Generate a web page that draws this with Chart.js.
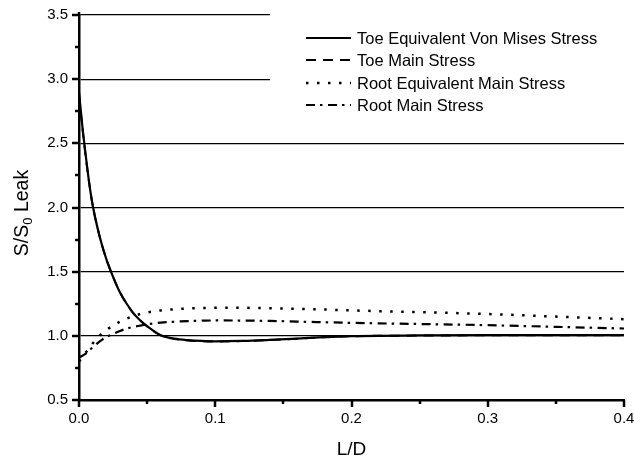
<!DOCTYPE html>
<html>
<head>
<meta charset="utf-8">
<script src="https://cdn.jsdelivr.net/npm/chart.js@4/dist/chart.umd.min.js"></script>
<style>
  html, body { margin: 0; padding: 0; background: #fff; }
  #wrap { width: 634px; height: 461px; }
</style>
</head>
<body>
<div id="wrap"><canvas id="c" width="634" height="461"></canvas></div>
<script>
// ---- data ----
const xs = [0, 0.0025, 0.005, 0.0075, 0.01, 0.015, 0.02, 0.025, 0.03, 0.035, 0.04, 0.045, 0.05, 0.06, 0.07, 0.08, 0.09, 0.1, 0.12, 0.14, 0.16, 0.18, 0.2, 0.25, 0.3, 0.35, 0.4];
const toeVonMises = [2.90, 2.63, 2.40, 2.19, 2.02, 1.78, 1.60, 1.46, 1.34, 1.25, 1.175, 1.12, 1.075, 1.005, 0.978, 0.966, 0.960, 0.957, 0.960, 0.968, 0.978, 0.990, 0.998, 1.003, 1.005, 1.005, 1.005];
const toeMain = [2.88, 2.62, 2.39, 2.19, 2.02, 1.78, 1.60, 1.46, 1.34, 1.25, 1.175, 1.12, 1.073, 1.003, 0.976, 0.964, 0.958, 0.956, 0.959, 0.967, 0.977, 0.989, 0.997, 1.002, 1.004, 1.004, 1.004];
const rootEquivMain = [0.80, 0.83, 0.87, 0.905, 0.94, 1.00, 1.045, 1.08, 1.11, 1.135, 1.155, 1.17, 1.182, 1.198, 1.207, 1.213, 1.217, 1.218, 1.218, 1.215, 1.210, 1.205, 1.198, 1.185, 1.170, 1.150, 1.130];
const rootMain = [0.83, 0.845, 0.862, 0.885, 0.91, 0.955, 0.99, 1.014, 1.038, 1.056, 1.07, 1.08, 1.09, 1.103, 1.11, 1.115, 1.118, 1.12, 1.119, 1.116, 1.111, 1.106, 1.101, 1.092, 1.083, 1.07, 1.057];
const seriesNames = ['Toe Equivalent Von Mises Stress', 'Toe Main Stress', 'Root Equivalent Main Stress', 'Root Main Stress'];
const xTickLabels = ['0.0', '0.1', '0.2', '0.3', '0.4'];
const yTickLabels = ['0.5', '1.0', '1.5', '2.0', '2.5', '3.0', '3.5'];

const FONT = "'Liberation Sans', Arial, Helvetica, sans-serif";
Chart.defaults.font.family = FONT;
Chart.defaults.color = '#000';

const styles = [
  { dash: [], width: 2.2, cap: 'butt' },
  { dash: [10, 7], width: 2, cap: 'butt' },
  { dash: [2.5, 8.5], width: 2.5, cap: 'butt' },
  { dash: [9, 5, 2.5, 5.5], width: 2.2, cap: 'butt' }
];
const allSeries = [toeVonMises, toeMain, rootEquivMain, rootMain];

const datasets = allSeries.map((arr, k) => ({
  label: seriesNames[k],
  data: xs.map((x, i) => ({ x: x, y: arr[i] })),
  borderColor: '#000',
  backgroundColor: '#000',
  borderWidth: styles[k].width,
  borderDash: styles[k].dash,
  borderCapStyle: styles[k].cap,
  pointRadius: 0,
  fill: false,
  cubicInterpolationMode: 'monotone'
}));

const decoPlugin = {
  id: 'deco',
  beforeDatasetsDraw(chart) {
    const ctx = chart.ctx;
    ctx.save();
    ctx.fillStyle = '#fff';
    ctx.fillRect(270, 0, chart.width - 270, 118);
    ctx.restore();
  },
  afterDatasetsDraw(chart) {
    const ctx = chart.ctx;
    const rowsY = [38, 60, 83, 105];
    ctx.save();
    ctx.strokeStyle = '#000';
    ctx.fillStyle = '#000';
    for (let k = 0; k < seriesNames.length; k++) {
      const y = rowsY[k];
      ctx.beginPath();
      ctx.lineWidth = styles[k].width;
      ctx.setLineDash(styles[k].dash);
      ctx.lineCap = 'butt';
      ctx.moveTo(306, y);
      ctx.lineTo(351, y);
      ctx.stroke();
      ctx.setLineDash([]);
      ctx.font = '16.5px ' + FONT;
      ctx.textBaseline = 'alphabetic';
      ctx.textAlign = 'left';
      ctx.fillText(seriesNames[k], 357, y + 6);
    }
    ctx.restore();
  },
  afterDraw(chart) {
    const ctx = chart.ctx;
    const xs_ = chart.scales.x, ys_ = chart.scales.y;
    const area = chart.chartArea;
    ctx.save();
    ctx.strokeStyle = '#000';
    ctx.lineWidth = 2.5;
    for (let i = 0; i <= 8; i++) {
      const v = i * 0.05;
      const px = Math.round(xs_.getPixelForValue(v));
      const len = (i % 2 === 0) ? 7 : 4;
      ctx.beginPath();
      ctx.moveTo(px, area.bottom);
      ctx.lineTo(px, area.bottom + len);
      ctx.stroke();
    }
    for (let i = 0; i <= 12; i++) {
      const v = 0.5 + i * 0.25;
      const py = Math.round(ys_.getPixelForValue(v));
      const len = (i % 2 === 0) ? 7 : 4;
      ctx.beginPath();
      ctx.moveTo(area.left - len, py);
      ctx.lineTo(area.left, py);
      ctx.stroke();
    }
    ctx.beginPath();
    ctx.moveTo(area.left, area.top + 1);
    ctx.lineTo(area.left, area.top - 3);
    ctx.stroke();
    // y axis title with subscript
    ctx.translate(21, 213);
    ctx.rotate(-Math.PI / 2);
    ctx.fillStyle = '#000';
    ctx.textBaseline = 'alphabetic';
    ctx.textAlign = 'left';
    const big = '19.5px ' + FONT, small = '13px ' + FONT;
    ctx.font = big; const w1 = ctx.measureText('S/S').width; const w3 = ctx.measureText(' Leak').width;
    ctx.font = small; const w2 = ctx.measureText('0').width;
    let x0 = -(w1 + w2 + w3) / 2;
    const base = 7;
    ctx.font = big; ctx.fillText('S/S', x0, base);
    ctx.font = small; ctx.fillText('0', x0 + w1, base + 4);
    ctx.font = big; ctx.fillText(' Leak', x0 + w1 + w2, base);
    ctx.restore();
  }
};

new Chart(document.getElementById('c'), {
  type: 'line',
  data: { datasets: datasets },
  options: {
    responsive: false,
    animation: false,
    devicePixelRatio: 1,
    layout: { padding: { top: 15, right: 10, left: 0, bottom: 0 } },
    plugins: { legend: { display: false }, tooltip: { enabled: false } },
    scales: {
      x: {
        type: 'linear',
        min: 0, max: 0.4,
        ticks: {
          stepSize: 0.1,
          autoSkip: false,
          maxRotation: 0,
          padding: 10,
          font: { size: 15 },
          color: '#000',
          callback: (v) => { const i = Math.round(v * 10); return (Math.abs(v * 10 - i) < 1e-6) ? xTickLabels[i] : ''; }
        },
        grid: { display: false, drawTicks: false },
        border: { display: true, color: '#000', width: 2.5 },
        title: { display: true, text: 'L/D', font: { size: 19 }, color: '#000', padding: { top: 0, bottom: 0 } },
        afterFit: (s) => { s.height = 61; s.paddingLeft = 0; s.paddingRight = 0; }
      },
      y: {
        type: 'linear',
        min: 0.5, max: 3.5,
        ticks: {
          stepSize: 0.5,
          padding: 11,
          font: { size: 15 },
          color: '#000',
          callback: (v) => { const i = Math.round((v - 0.5) * 2); return yTickLabels[i]; }
        },
        grid: { color: '#000', lineWidth: 1.2, drawTicks: false },
        border: { display: true, color: '#000', width: 2.5 },
        afterFit: (s) => { s.width = 79; s.paddingTop = 0; s.paddingBottom = 0; }
      }
    }
  },
  plugins: [decoPlugin]
});
</script>
</body>
</html>
